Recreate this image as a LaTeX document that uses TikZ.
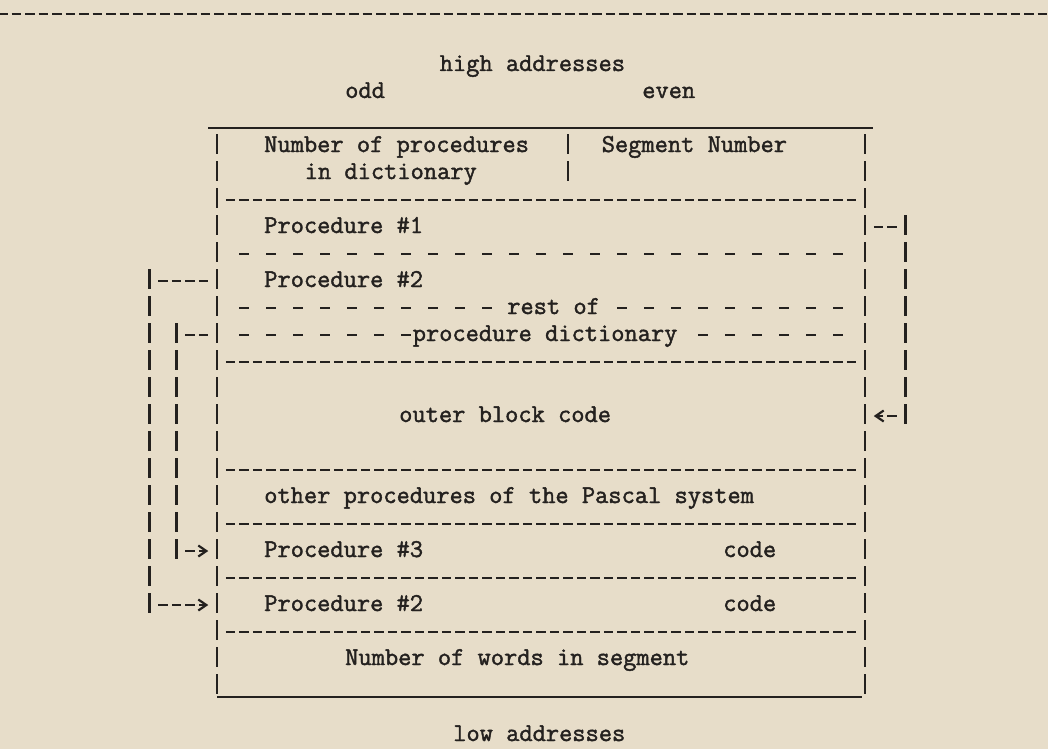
\documentclass[tikz,border=0pt]{standalone}
\usepackage{fontspec}
\newfontfamily\tw{Latin Modern Mono}[FakeBold=1.6]
\usetikzlibrary{arrows.meta}
\definecolor{paper}{RGB}{231,221,201}
\definecolor{ink}{RGB}{36,33,31}
% grid of the typewriter: column cell left / centre, row centre
\newcommand\colL[1]{(210.25+13.5*(#1))}
\newcommand\colC[1]{(217+13.5*(#1))}
\newcommand\rowY[1]{(146+27*(#1))}
\newcommand\denseRow[3]{\draw[dense] ({\colL{#1}+2},{\rowY{#3}}) -- ({\colL{#2}+11.5},{\rowY{#3}});}
\newcommand\sparseRow[3]{\draw[sparse] ({\colC{#1}-4.75},{\rowY{#3}}) -- ({\colC{#2}+4.75},{\rowY{#3}});}
\newcommand\barCol[3]{\draw[bars] ({\colC{#1}},{\rowY{#2}-12}) -- ({\colC{#1}},{\rowY{#3}+8});}
\begin{document}
\begin{tikzpicture}[x=1pt,y=-1pt,
  txt/.style={anchor=base west,inner sep=0pt,outer sep=0pt,text=ink,font={\tw\fontsize{25.7}{27}\selectfont}},
  dense/.style={draw=ink,line width=2.7pt,dash pattern=on 9.5pt off 4pt},
  sparse/.style={draw=ink,line width=2.7pt,dash pattern=on 9.5pt off 17.5pt},
  bars/.style={draw=ink,line width=2.2pt,dash pattern=on 20pt off 7pt},
  rulel/.style={draw=ink,line width=2.6pt},
  tipend/.style={-{Straight Barb[length=8pt,width=11pt,line width=2.2pt]}},
]
\fill[paper] (0,0) rectangle (1048,749);
\useasboundingbox (0,0) rectangle (1048,749);

% top separator of the page
\draw[dense] (-2,14) -- (1050,14);

% headings
\node[txt] (hi)   at ({\colL{17}},{\rowY{-3}+6}) {high addresses};
\node[txt] (odd)  at ({\colL{10}},{\rowY{-2}+6}) {odd};
\node[txt] (even) at ({\colL{32}},{\rowY{-2}+6}) {even};
\node[txt] (low)  at ({\colL{18}},{741}) {low addresses};

% box outline
\draw[rulel] (208,128) -- (873,128);
\draw[rulel] (217,697) -- (862,697);
\barCol{0}{0}{20}
\barCol{48}{0}{20}
\barCol{26}{0}{1}

% texts inside the box
\node[txt] (np)     at ({\colL{4}},{\rowY{0}+6})  {Number of procedures};
\node[txt] (indict) at ({\colL{7}},{\rowY{1}+6})  {in dictionary};
\node[txt] (seg)    at ({\colL{29}},{\rowY{0}+6}) {Segment Number};
\node[txt] (p1)     at ({\colL{4}},{\rowY{3}+6})  {Procedure \#1};
\node[txt] (p2)     at ({\colL{4}},{\rowY{5}+6})  {Procedure \#2};
\node[txt] (rest)   at ({\colL{22}},{\rowY{6}+6}) {rest of};
\node[txt] (pd)     at ({\colL{15}},{\rowY{7}+6}) {procedure dictionary};
\node[txt] (outer)  at ({\colL{14}},{\rowY{10}+6}) {outer block code};
\node[txt] (other)  at ({\colL{4}},{\rowY{13}+6}) {other procedures of the Pascal system};
\node[txt] (p3)     at ({\colL{4}},{\rowY{15}+6}) {Procedure \#3};
\node[txt] (code3)  at ({\colL{38}},{\rowY{15}+6}) {code};
\node[txt] (p2c)    at ({\colL{4}},{\rowY{17}+6}) {Procedure \#2};
\node[txt] (code2)  at ({\colL{38}},{\rowY{17}+6}) {code};
\node[txt] (nw)     at ({\colL{10}},{\rowY{19}+6}) {Number of words in segment};

% dividers
\denseRow{1}{47}{2}
\sparseRow{2}{46}{4}
\sparseRow{2}{20}{6}
\sparseRow{30}{46}{6}
\sparseRow{2}{14}{7}
\sparseRow{36}{46}{7}
\denseRow{1}{47}{8}
\denseRow{1}{47}{12}
\denseRow{1}{47}{14}
\denseRow{1}{47}{16}
\denseRow{1}{47}{18}

% right pointer: procedure #1 -> outer block code
\coordinate (ra) at ({\colL{49}+2},{\rowY{3}});
\coordinate (rb) at ({\colL{50}+11.5},{\rowY{3}});
\coordinate (rc) at ({\colC{51}},{\rowY{3}-12});
\coordinate (rd) at ({\colC{51}},{\rowY{10}+8});
\coordinate (re) at ({\colL{50}+11.5},{\rowY{10}});
\coordinate (rf) at ({\colL{49}+2},{\rowY{10}});
\draw[dense] (ra) -- (rb);
\draw[bars] (rc) -- (rd);
\draw[dense,tipend] (re) -- (rf);

% left outer pointer: procedure #2 -> procedure #2 code
\coordinate (la) at ({\colL{-1}+11.5},{\rowY{5}});
\coordinate (lb) at ({\colL{-4}+2},{\rowY{5}});
\coordinate (lc) at ({\colC{-5}},{\rowY{5}-12});
\coordinate (ld) at ({\colC{-5}},{\rowY{17}+8});
\coordinate (le) at ({\colL{-4}+2},{\rowY{17}});
\coordinate (lf) at ({\colL{-1}+11.5},{\rowY{17}});
\draw[dense] (lb) -- (la);
\draw[bars] (lc) -- (ld);
\draw[dense,tipend] (le) -- (lf);

% left inner pointer: rest of dictionary -> procedure #3 code
\coordinate (ia) at ({\colL{-1}+11.5},{\rowY{7}});
\coordinate (ib) at ({\colL{-2}+2},{\rowY{7}});
\coordinate (ic) at ({\colC{-3}},{\rowY{7}-12});
\coordinate (id) at ({\colC{-3}},{\rowY{15}+8});
\coordinate (ie) at ({\colL{-2}+2},{\rowY{15}});
\coordinate (if) at ({\colL{-1}+11.5},{\rowY{15}});
\draw[dense] (ib) -- (ia);
\draw[bars] (ic) -- (id);
\draw[dense,tipend] (ie) -- (if);
\end{tikzpicture}
\end{document}
